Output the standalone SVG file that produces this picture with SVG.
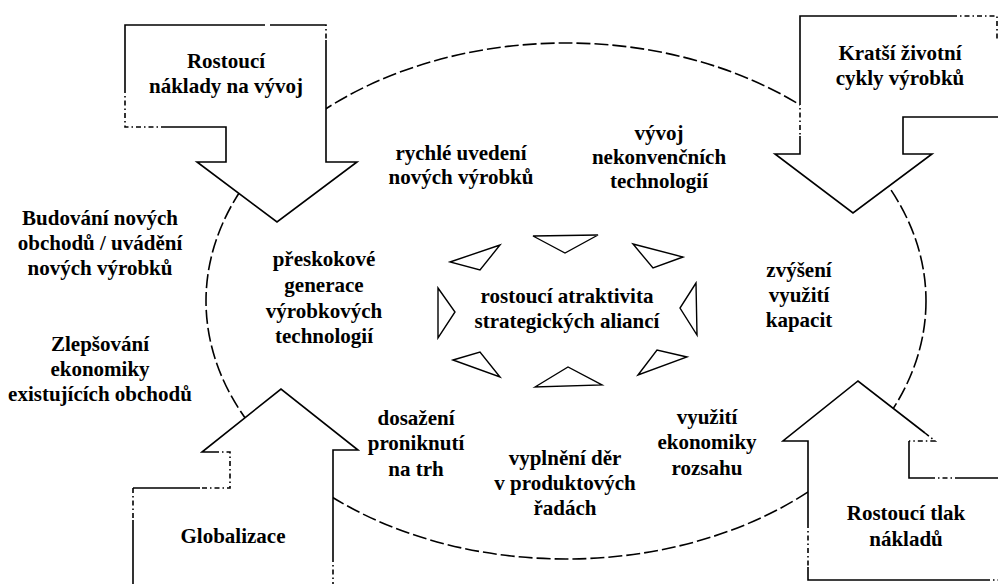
<svg xmlns="http://www.w3.org/2000/svg" width="999" height="584" viewBox="0 0 999 584">
  <style>
    .t { font-family: "Liberation Serif", "Times New Roman", serif; font-weight: bold; font-size: 21px; text-anchor: middle; fill: #000; }
    .fill { fill: #fff; stroke: none; }
    .solid { fill: none; stroke: #000; stroke-width: 1.6; stroke-linejoin: miter; }
    .dot { fill: none; stroke: #000; stroke-width: 1.6; stroke-dasharray: 5 3 1.5 3; }
    .cycle { fill: none; stroke: #000; stroke-width: 1.6; stroke-dasharray: 14 4; }
    .tri { fill: none; stroke: #000; stroke-width: 1.4; stroke-linejoin: miter; }
  </style>
  <rect width="999" height="584" fill="#fff"/>

  <!-- cycle of strategic reasons -->
  <g id="cycle">
    <ellipse class="cycle" cx="566" cy="301" rx="360" ry="258"/>
  </g>

  <!-- inward-pointing arrowheads round the centre -->
  <g id="connectors">
    <polygon class="tri" points="533,236 598,235 565,253"/>
    <polygon class="tri" points="450,262 500,245 480,270"/>
    <polygon class="tri" points="633,244 683,257 653,268"/>
    <polygon class="tri" points="696,283 680,308 697,335"/>
    <polygon class="tri" points="438,288 455,312 438,338"/>
    <polygon class="tri" points="453,360 480,352 500,377"/>
    <polygon class="tri" points="535,387 568,367 602,385"/>
    <polygon class="tri" points="638,375 657,350 687,357"/>
  </g>

  <!-- driver: development costs (arrow down, top left) -->
  <g id="n-naklady">
    <polygon class="fill" points="125,25 326,25 326,162 357,162 277,222 197,162 226,162 226,127 125,127"/>
    <path class="solid" d="M125,88 V25 H265 M270,25 H322 M326,40 V162 H357 L277,222 L197,162 H226 V127 H165"/>
    <path class="dot" d="M322,25 H326 V40 M125,88 V127 H165"/>
    <text class="t" x="226" y="68">Rostoucí</text>
    <text class="t" x="226" y="93">náklady na vývoj</text>
  </g>

  <!-- driver: shorter life cycles (arrow down, top right) -->
  <g id="n-cykly">
    <polygon class="fill" points="800,16 998,16 998,117 903,117 903,154 932,154 853,213 775,154 800,154"/>
    <path class="solid" d="M800,100 V16 H952 M998,117 H903 V154 H932 L853,213 L775,154 H800 V136"/>
    <path class="dot" d="M952,16 H997 V40 M800,100 V136"/>
    <text class="t" x="900" y="60">Kratší životní</text>
    <text class="t" x="900" y="85">cykly výrobků</text>
  </g>

  <!-- driver: globalisation (arrow up, bottom left) -->
  <g id="n-globalizace">
    <polygon class="fill" points="281,389 358,450 333,450 333,590 133,590 133,488 230,488 230,452 202,452"/>
    <path class="solid" d="M214,452 H202 L281,389 L358,450 H333 V557 M133,590 V520 M133,488 H200"/>
    <path class="dot" d="M214,452 H230 V488 H200 M133,488 V520 M333,557 V590"/>
    <text class="t" x="233" y="543">Globalizace</text>
  </g>

  <!-- driver: cost pressure (arrow up, bottom right) -->
  <g id="n-tlak">
    <polygon class="fill" points="858,381 935,441 909,441 909,478 998,478 998,580 808,580 808,441 783,441"/>
    <path class="solid" d="M808,523 V441 H783 L858,381 L925,433 M909,441 V478 H930 M960,478 H998 M808,567 V580 H985"/>
    <path class="dot" d="M925,433 L935,441 H909 M930,478 H960 M808,523 V567 M985,580 H998"/>
    <text class="t" x="906" y="520">Rostoucí tlak</text>
    <text class="t" x="906" y="546">nákladů</text>
  </g>

  <!-- business goals outside the cycle -->
  <g id="n-budovani">
    <text class="t" x="100" y="225">Budování nových</text>
    <text class="t" x="100" y="250">obchodů / uvádění</text>
    <text class="t" x="100" y="275">nových výrobků</text>
  </g>
  <g id="n-zlepsovani">
    <text class="t" x="100" y="351">Zlepšování</text>
    <text class="t" x="100" y="376">ekonomiky</text>
    <text class="t" x="100" y="401">existujících obchodů</text>
  </g>

  <!-- reasons inside the cycle -->
  <g id="n-rychle">
    <text class="t" x="461" y="160">rychlé uvedení</text>
    <text class="t" x="461" y="184">nových výrobků</text>
  </g>
  <g id="n-vyvoj">
    <text class="t" x="659" y="140">vývoj</text>
    <text class="t" x="659" y="164">nekonvenčních</text>
    <text class="t" x="659" y="188">technologií</text>
  </g>
  <g id="n-preskokove">
    <text class="t" x="324" y="266">přeskokové</text>
    <text class="t" x="324" y="292">generace</text>
    <text class="t" x="324" y="318">výrobkových</text>
    <text class="t" x="324" y="343">technologií</text>
  </g>
  <g id="n-stred">
    <text class="t" x="567" y="303">rostoucí atraktivita</text>
    <text class="t" x="567" y="328">strategických aliancí</text>
  </g>
  <g id="n-kapacity">
    <text class="t" x="799" y="277">zvýšení</text>
    <text class="t" x="799" y="302">využití</text>
    <text class="t" x="799" y="327">kapacit</text>
  </g>
  <g id="n-pronikani">
    <text class="t" x="416" y="425">dosažení</text>
    <text class="t" x="416" y="450">proniknutí</text>
    <text class="t" x="416" y="476">na trh</text>
  </g>
  <g id="n-dery">
    <text class="t" x="565" y="465">vyplnění děr</text>
    <text class="t" x="565" y="490">v produktových</text>
    <text class="t" x="565" y="515">řadách</text>
  </g>
  <g id="n-rozsah">
    <text class="t" x="707" y="424">využití</text>
    <text class="t" x="707" y="449">ekonomiky</text>
    <text class="t" x="707" y="475">rozsahu</text>
  </g>
</svg>
